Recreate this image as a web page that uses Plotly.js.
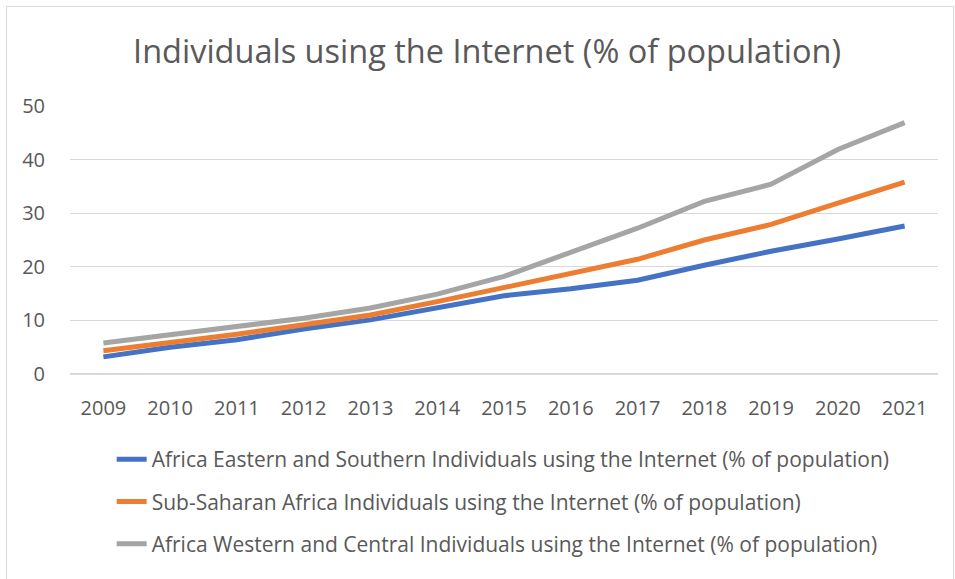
<!DOCTYPE html>
<html>
<head>
<meta charset="utf-8">
<script src="https://cdn.plot.ly/plotly-3.0.1.min.js"></script>
<style>
  html, body { margin: 0; padding: 0; background: #ffffff; }
  #wrap { position: relative; width: 955px; height: 579px; }
  #chart { position: absolute; left: 0; top: 0; width: 955px; height: 579px; }
  #frame { position: absolute; left: 6px; top: 6px; width: 946px; height: 580px; border: 1px solid #d9d9d9; pointer-events: none; }
</style>
</head>
<body>
<div id="wrap">
  <div id="chart"></div>
  <div id="frame"></div>
</div>
<script>
const years = ["2009","2010","2011","2012","2013","2014","2015","2016","2017","2018","2019","2020","2021"];
const eastSouth = [3.2, 5.0, 6.4, 8.4, 10.1, 12.3, 14.6, 15.9, 17.5, 20.3, 22.9, 25.2, 27.6];
const subSaharan = [4.35, 5.9, 7.4, 9.2, 11.0, 13.5, 16.2, 18.9, 21.4, 25.0, 27.9, 31.9, 35.8];
const westCentral = [5.8, 7.3, 8.7, 10.4, 12.3, 14.9, 18.2, 22.7, 27.2, 32.2, 35.4, 41.9, 46.9];
const seriesNames = [
  "Africa Eastern and Southern Individuals using the Internet (% of population)",
  "Sub-Saharan Africa Individuals using the Internet (% of population)",
  "Africa Western and Central Individuals using the Internet (% of population)"
];
const colors = ["#4472C4", "#ED7D31", "#A5A5A5"];
const values = [eastSouth, subSaharan, westCentral];

const font = "'Open Sans', 'Noto Sans', sans-serif";
const textColor = "#595959";

const traces = values.map((v, i) => ({
  type: "scatter",
  mode: "lines",
  x: years,
  y: v,
  name: seriesNames[i],
  legendgroup: "g" + i,
  line: { color: colors[i], width: 5 },
  hoverinfo: "x+y+name"
}));

const layout = {
  width: 955,
  height: 579,
  paper_bgcolor: "#ffffff",
  plot_bgcolor: "#ffffff",
  margin: { l: 70, r: 17, t: 106, b: 205 },
  title: {
    text: "Individuals using the Internet (% of population)",
    font: { family: font, size: 32.5, color: textColor },
    x: 0.51, xanchor: "center",
    y: 0.91, yanchor: "middle"
  },
  xaxis: {
    type: "category",
    range: [-0.5, 12.5],
    showgrid: false,
    zeroline: false,
    showline: false,
    ticks: "outside",
    ticklen: 16,
    tickcolor: "rgba(0,0,0,0)",
    tickfont: { family: font, size: 20, color: textColor },
    fixedrange: true
  },
  yaxis: {
    range: [0, 50],
    dtick: 10,
    tick0: 0,
    showgrid: true,
    gridcolor: "#d9d9d9",
    gridwidth: 1.3,
    zeroline: true,
    zerolinecolor: "#d9d9d9",
    zerolinewidth: 1.3,
    showline: false,
    ticks: "outside",
    ticklen: 20,
    tickcolor: "rgba(0,0,0,0)",
    tickfont: { family: font, size: 20, color: textColor },
    fixedrange: true
  },
  showlegend: true,
  legend: {
    orientation: "v",
    x: 0.048, xanchor: "left",
    y: -0.2425, yanchor: "top",
    traceorder: "grouped",
    tracegroupgap: 12,
    font: { family: font, size: 21, color: textColor },
    bgcolor: "rgba(0,0,0,0)",
    itemwidth: 30
  }
};

Plotly.newPlot("chart", traces, layout, { displayModeBar: false, staticPlot: true });
</script>
</body>
</html>
